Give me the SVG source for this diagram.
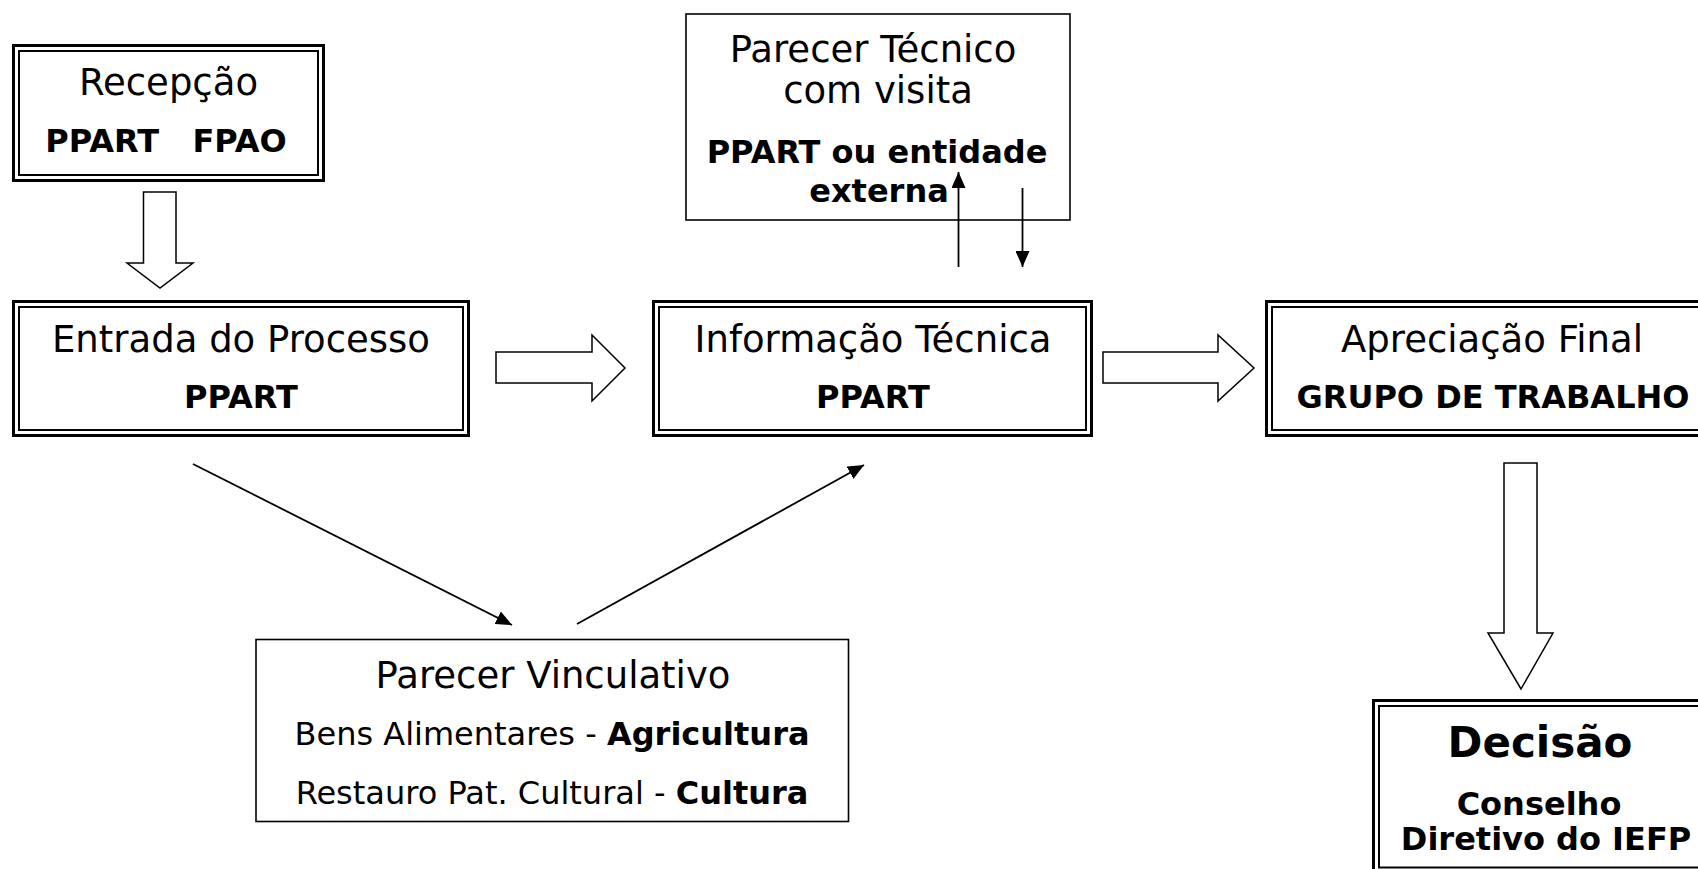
<svg xmlns="http://www.w3.org/2000/svg" width="1698" height="869" viewBox="0 0 1698 869">
<defs>
<style>
.bg{fill:#fff}
.o{fill:#fff;stroke:#000;stroke-width:3}
.i{fill:none;stroke:#000;stroke-width:2}
.s{fill:#fff;stroke:#000;stroke-width:1.6}
.blk{fill:#fff;stroke:#000;stroke-width:1.5;stroke-linejoin:miter}
.ln{fill:none;stroke:#000;stroke-width:1.8}
text{font-family:"DejaVu Sans","Verdana",sans-serif;fill:#000;text-anchor:middle}
.t{font-size:37px}
.b{font-size:32px;font-weight:bold}
.r{font-size:32px}
.d{font-size:42px;font-weight:bold}
</style>
<marker id="ah" markerUnits="userSpaceOnUse" markerWidth="16" markerHeight="14" viewBox="0 0 16 14" refX="16" refY="7" orient="auto">
<path d="M0,0 L16,7 L0,14 Z" fill="#000"/>
</marker>
</defs>
<rect class="bg" x="0" y="0" width="1698" height="869"/>

<g id="recepcao">
<rect class="o" x="13.5" y="45.5" width="310" height="135"/>
<rect class="i" x="19" y="51" width="299" height="124"/>
<text class="t" x="168.5" y="95">Recepção</text>
<text class="b" x="166" y="152" xml:space="preserve">PPART   FPAO</text>
</g>

<g id="parecer-tecnico">
<rect class="s" x="686" y="14" width="384" height="206"/>
<text class="t" x="873" y="62">Parecer Técnico</text>
<text class="t" x="878" y="103">com visita</text>
<text class="b" x="877" y="163">PPART ou entidade</text>
<text class="b" x="879" y="202">externa</text>
</g>

<g id="entrada">
<rect class="o" x="13.5" y="301.5" width="455" height="134"/>
<rect class="i" x="19" y="307" width="444" height="123"/>
<text class="t" x="241" y="352">Entrada do Processo</text>
<text class="b" x="241" y="408">PPART</text>
</g>

<g id="informacao">
<rect class="o" x="653.5" y="301.5" width="438" height="134"/>
<rect class="i" x="659" y="307" width="427" height="123"/>
<text class="t" x="873" y="352">Informação Técnica</text>
<text class="b" x="873" y="408">PPART</text>
</g>

<g id="apreciacao">
<rect class="o" x="1266.5" y="301.5" width="460" height="134"/>
<rect class="i" x="1272" y="307" width="449" height="123"/>
<text class="t" x="1492" y="352">Apreciação Final</text>
<text class="b" x="1493" y="408">GRUPO DE TRABALHO</text>
</g>

<g id="parecer-vinculativo">
<rect class="s" x="256" y="639.5" width="592.5" height="182"/>
<text class="t" x="553" y="688">Parecer Vinculativo</text>
<text class="r" x="552" y="745">Bens Alimentares - <tspan font-weight="bold">Agricultura</tspan></text>
<text class="r" x="552" y="803.5">Restauro Pat. Cultural - <tspan font-weight="bold">Cultura</tspan></text>
</g>

<g id="decisao">
<rect class="o" x="1373.5" y="700.5" width="350" height="175"/>
<rect class="i" x="1379" y="706" width="339" height="161.5"/>
<text class="d" x="1540" y="757">Decisão</text>
<text class="b" x="1539" y="815">Conselho</text>
<text class="b" x="1546" y="850">Diretivo do IEFP</text>
</g>

<g id="connectors">
<path class="blk" d="M143.5,192 H176 V263 H193 L160,288 L127,263 H143.5 Z"/>
<path class="blk" d="M496,352 H592 V335 L625,368 L592,401 V383 H496 Z"/>
<path class="blk" d="M1103,352 H1218 V335 L1254,368 L1218,401 V383 H1103 Z"/>
<path class="blk" d="M1504,463 H1537 V633 H1553 L1521,689 L1488,633 H1504 Z"/>
<line class="ln" x1="958.5" y1="267" x2="958.5" y2="172" marker-end="url(#ah)"/>
<line class="ln" x1="1022.5" y1="188" x2="1022.5" y2="267" marker-end="url(#ah)"/>
<line class="ln" x1="193" y1="464" x2="512" y2="625" marker-end="url(#ah)"/>
<line class="ln" x1="577" y1="624" x2="864" y2="465" marker-end="url(#ah)"/>
</g>
</svg>
